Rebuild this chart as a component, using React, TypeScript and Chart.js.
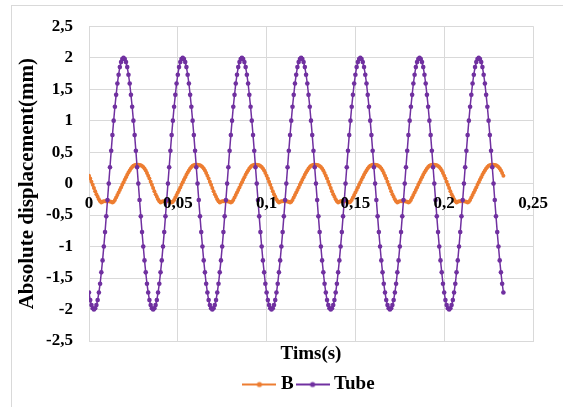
import React, { useEffect, useRef } from "react";
import { Chart, registerables } from "chart.js";

Chart.register(...registerables);

// ---- data ----
const TIME_STEP = 1 / 1440; // seconds between successive samples
const SERIES_NAMES = ["B", "Tube"];
const X_RANGE = [0, 0.25];
const X_STEP = 0.05;
const Y_RANGE = [-2.5, 2.5];
const Y_STEP = 0.5;

const B_VALUES = [
  0.125, 0.08, 0.03, -0.02, -0.07, -0.12, -0.17, -0.21, -0.25, -0.28, -0.3, -0.29,
  -0.28, -0.28, -0.28, -0.28, -0.28, -0.285, -0.29, -0.3, -0.29, -0.26, -0.22, -0.18,
  -0.14, -0.1, -0.06, -0.02, 0.02, 0.06, 0.1, 0.14, 0.175, 0.21, 0.24, 0.265,
  0.283, 0.292, 0.298, 0.3, 0.3, 0.297, 0.29, 0.28, 0.263, 0.24, 0.21, 0.17,
  0.125, 0.08, 0.03, -0.02, -0.07, -0.12, -0.17, -0.21, -0.25, -0.28, -0.3, -0.29,
  -0.28, -0.28, -0.28, -0.28, -0.28, -0.285, -0.29, -0.3, -0.29, -0.26, -0.22, -0.18,
  -0.14, -0.1, -0.06, -0.02, 0.02, 0.06, 0.1, 0.14, 0.175, 0.21, 0.24, 0.265,
  0.283, 0.292, 0.298, 0.3, 0.3, 0.297, 0.29, 0.28, 0.263, 0.24, 0.21, 0.17,
  0.125, 0.08, 0.03, -0.02, -0.07, -0.12, -0.17, -0.21, -0.25, -0.28, -0.3, -0.29,
  -0.28, -0.28, -0.28, -0.28, -0.28, -0.285, -0.29, -0.3, -0.29, -0.26, -0.22, -0.18,
  -0.14, -0.1, -0.06, -0.02, 0.02, 0.06, 0.1, 0.14, 0.175, 0.21, 0.24, 0.265,
  0.283, 0.292, 0.298, 0.3, 0.3, 0.297, 0.29, 0.28, 0.263, 0.24, 0.21, 0.17,
  0.125, 0.08, 0.03, -0.02, -0.07, -0.12, -0.17, -0.21, -0.25, -0.28, -0.3, -0.29,
  -0.28, -0.28, -0.28, -0.28, -0.28, -0.285, -0.29, -0.3, -0.29, -0.26, -0.22, -0.18,
  -0.14, -0.1, -0.06, -0.02, 0.02, 0.06, 0.1, 0.14, 0.175, 0.21, 0.24, 0.265,
  0.283, 0.292, 0.298, 0.3, 0.3, 0.297, 0.29, 0.28, 0.263, 0.24, 0.21, 0.17,
  0.125, 0.08, 0.03, -0.02, -0.07, -0.12, -0.17, -0.21, -0.25, -0.28, -0.3, -0.29,
  -0.28, -0.28, -0.28, -0.28, -0.28, -0.285, -0.29, -0.3, -0.29, -0.26, -0.22, -0.18,
  -0.14, -0.1, -0.06, -0.02, 0.02, 0.06, 0.1, 0.14, 0.175, 0.21, 0.24, 0.265,
  0.283, 0.292, 0.298, 0.3, 0.3, 0.297, 0.29, 0.28, 0.263, 0.24, 0.21, 0.17,
  0.125, 0.08, 0.03, -0.02, -0.07, -0.12, -0.17, -0.21, -0.25, -0.28, -0.3, -0.29,
  -0.28, -0.28, -0.28, -0.28, -0.28, -0.285, -0.29, -0.3, -0.29, -0.26, -0.22, -0.18,
  -0.14, -0.1, -0.06, -0.02, 0.02, 0.06, 0.1, 0.14, 0.175, 0.21, 0.24, 0.265,
  0.283, 0.292, 0.298, 0.3, 0.3, 0.297, 0.29, 0.28, 0.263, 0.24, 0.21, 0.17,
  0.125, 0.08, 0.03, -0.02, -0.07, -0.12, -0.17, -0.21, -0.25, -0.28, -0.3, -0.29,
  -0.28, -0.28, -0.28, -0.28, -0.28, -0.285, -0.29, -0.3, -0.29, -0.26, -0.22, -0.18,
  -0.14, -0.1, -0.06, -0.02, 0.02, 0.06, 0.1, 0.14, 0.175, 0.21, 0.24, 0.265,
  0.283, 0.292, 0.298, 0.3, 0.3, 0.297, 0.29, 0.28, 0.263, 0.24, 0.21, 0.17,
  0.125,
];

const TUBE_VALUES = [
  -1.73, -1.85, -1.93, -1.98, -2, -1.98, -1.93, -1.85, -1.73, -1.59, -1.41, -1.22,
  -1, -0.77, -0.52, -0.26, 0, 0.26, 0.52, 0.77, 1, 1.22, 1.41, 1.59,
  1.73, 1.85, 1.93, 1.98, 2, 1.98, 1.93, 1.85, 1.73, 1.59, 1.41, 1.22,
  1, 0.77, 0.52, 0.26, 0, -0.26, -0.52, -0.77, -1, -1.22, -1.41, -1.59,
  -1.73, -1.85, -1.93, -1.98, -2, -1.98, -1.93, -1.85, -1.73, -1.59, -1.41, -1.22,
  -1, -0.77, -0.52, -0.26, 0, 0.26, 0.52, 0.77, 1, 1.22, 1.41, 1.59,
  1.73, 1.85, 1.93, 1.98, 2, 1.98, 1.93, 1.85, 1.73, 1.59, 1.41, 1.22,
  1, 0.77, 0.52, 0.26, 0, -0.26, -0.52, -0.77, -1, -1.22, -1.41, -1.59,
  -1.73, -1.85, -1.93, -1.98, -2, -1.98, -1.93, -1.85, -1.73, -1.59, -1.41, -1.22,
  -1, -0.77, -0.52, -0.26, 0, 0.26, 0.52, 0.77, 1, 1.22, 1.41, 1.59,
  1.73, 1.85, 1.93, 1.98, 2, 1.98, 1.93, 1.85, 1.73, 1.59, 1.41, 1.22,
  1, 0.77, 0.52, 0.26, 0, -0.26, -0.52, -0.77, -1, -1.22, -1.41, -1.59,
  -1.73, -1.85, -1.93, -1.98, -2, -1.98, -1.93, -1.85, -1.73, -1.59, -1.41, -1.22,
  -1, -0.77, -0.52, -0.26, 0, 0.26, 0.52, 0.77, 1, 1.22, 1.41, 1.59,
  1.73, 1.85, 1.93, 1.98, 2, 1.98, 1.93, 1.85, 1.73, 1.59, 1.41, 1.22,
  1, 0.77, 0.52, 0.26, 0, -0.26, -0.52, -0.77, -1, -1.22, -1.41, -1.59,
  -1.73, -1.85, -1.93, -1.98, -2, -1.98, -1.93, -1.85, -1.73, -1.59, -1.41, -1.22,
  -1, -0.77, -0.52, -0.26, 0, 0.26, 0.52, 0.77, 1, 1.22, 1.41, 1.59,
  1.73, 1.85, 1.93, 1.98, 2, 1.98, 1.93, 1.85, 1.73, 1.59, 1.41, 1.22,
  1, 0.77, 0.52, 0.26, 0, -0.26, -0.52, -0.77, -1, -1.22, -1.41, -1.59,
  -1.73, -1.85, -1.93, -1.98, -2, -1.98, -1.93, -1.85, -1.73, -1.59, -1.41, -1.22,
  -1, -0.77, -0.52, -0.26, 0, 0.26, 0.52, 0.77, 1, 1.22, 1.41, 1.59,
  1.73, 1.85, 1.93, 1.98, 2, 1.98, 1.93, 1.85, 1.73, 1.59, 1.41, 1.22,
  1, 0.77, 0.52, 0.26, 0, -0.26, -0.52, -0.77, -1, -1.22, -1.41, -1.59,
  -1.73, -1.85, -1.93, -1.98, -2, -1.98, -1.93, -1.85, -1.73, -1.59, -1.41, -1.22,
  -1, -0.77, -0.52, -0.26, 0, 0.26, 0.52, 0.77, 1, 1.22, 1.41, 1.59,
  1.73, 1.85, 1.93, 1.98, 2, 1.98, 1.93, 1.85, 1.73, 1.59, 1.41, 1.22,
  1, 0.77, 0.52, 0.26, 0, -0.26, -0.52, -0.77, -1, -1.22, -1.41, -1.59,
  -1.73,
];

const X_TITLE = "Tims(s)";
const Y_TITLE = "Absolute displacement(mm)";

// ---- styling ----
const FONT = "'Liberation Serif', 'Times New Roman', serif";
const ORANGE = "#ED7D31";
const PURPLE = "#7030A0";
const GRID = "#d9d9d9";

const fmt = (v: number) => String(Math.round(v * 100) / 100).replace(".", ",");

function swatch(color: string): HTMLCanvasElement {
  const c = document.createElement("canvas");
  c.width = 34;
  c.height = 8;
  const g = c.getContext("2d")!;
  g.strokeStyle = color;
  g.lineWidth = 2;
  g.beginPath();
  g.moveTo(0, 4);
  g.lineTo(34, 4);
  g.stroke();
  g.fillStyle = color;
  g.beginPath();
  g.arc(17, 4, 2.6, 0, Math.PI * 2);
  g.fill();
  return c;
}

const zeroAxisLabels = {
  id: "zeroAxisLabels",
  afterDraw(chart: any) {
    const { ctx } = chart;
    const x = chart.scales.x;
    const y = chart.scales.y;
    const yPix = y.getPixelForValue(0);
    ctx.save();
    ctx.font = `bold 17px ${FONT}`;
    ctx.fillStyle = "#000";
    ctx.textAlign = "center";
    ctx.textBaseline = "middle";
    x.ticks.forEach((t: any) => {
      ctx.fillText(fmt(t.value), x.getPixelForValue(t.value), yPix + 20);
    });
    ctx.restore();
  },
};

export default function App() {
  const ref = useRef<HTMLCanvasElement>(null);

  useEffect(() => {
    const canvas = ref.current;
    if (!canvas) return;
    const times = TUBE_VALUES.map((_, i) => i * TIME_STEP);
    const colors = [ORANGE, PURPLE];
    const swatches = colors.map(swatch);

    const chart = new Chart(canvas, {
      type: "line",
      data: {
        datasets: [
          {
            label: SERIES_NAMES[0],
            data: B_VALUES.map((v, i) => ({ x: times[i], y: v })),
            borderColor: ORANGE,
            backgroundColor: ORANGE,
            borderWidth: 2,
            pointRadius: 2,
            pointBorderWidth: 0,
            pointBackgroundColor: ORANGE,
            order: 2,
          },
          {
            label: SERIES_NAMES[1],
            data: TUBE_VALUES.map((v, i) => ({ x: times[i], y: v })),
            borderColor: PURPLE,
            backgroundColor: PURPLE,
            borderWidth: 1.5,
            pointRadius: 2.3,
            pointBorderWidth: 0,
            pointBackgroundColor: PURPLE,
            order: 1,
          },
        ],
      },
      options: {
        animation: false,
        responsive: true,
        maintainAspectRatio: false,
        events: [],
        layout: { padding: { left: 12, top: 23, right: 30, bottom: 3 } },
        scales: {
          x: {
            type: "linear",
            min: X_RANGE[0],
            max: X_RANGE[1],
            ticks: { stepSize: X_STEP, display: false },
            grid: { color: GRID, drawTicks: false, lineWidth: 1 },
            border: { color: GRID },
            title: {
              display: true,
              text: X_TITLE,
              color: "#000",
              font: { family: FONT, size: 19, weight: "bold" },
              padding: { top: 0, bottom: 3 },
            },
            afterFit: (s: any) => {
              s.height = 27;
            },
          },
          y: {
            type: "linear",
            min: Y_RANGE[0],
            max: Y_RANGE[1],
            ticks: {
              stepSize: Y_STEP,
              color: "#000",
              padding: 16,
              font: { family: FONT, size: 17, weight: "bold" },
              callback: (v: any) => fmt(Number(v)),
            },
            grid: { color: GRID, drawTicks: false, lineWidth: 1 },
            border: { color: GRID },
            title: {
              display: true,
              text: Y_TITLE,
              color: "#000",
              font: { family: FONT, size: 21, weight: "bold" },
              padding: { top: 3, bottom: 0 },
            },
            afterFit: (s: any) => {
              s.width = 77;
            },
          },
        },
        plugins: {
          tooltip: { enabled: false },
          legend: {
            display: true,
            position: "bottom",
            fullSize: false,
            labels: {
              usePointStyle: true,
              pointStyleWidth: 24,
              padding: 7,
              color: "#000",
              font: { family: FONT, size: 19, weight: "bold" },
              generateLabels: (c: any) =>
                c.data.datasets.map((ds: any, i: number) => ({
                  text: ds.label,
                  datasetIndex: i,
                  pointStyle: swatches[i],
                  fillStyle: colors[i],
                  strokeStyle: colors[i],
                  lineWidth: 0,
                  hidden: false,
                })),
            },
          },
        },
      },
      plugins: [zeroAxisLabels],
    } as any);

    return () => chart.destroy();
  }, []);

  return (
    <div
      style={{
        position: "fixed",
        left: 0,
        top: 0,
        width: 563,
        height: 407,
        background: "#fff",
        overflow: "hidden",
      }}
    >
      <div
        style={{
          position: "absolute",
          left: 11,
          top: 5,
          width: 600,
          height: 450,
          borderLeft: `1px solid ${GRID}`,
          borderTop: `1px solid ${GRID}`,
        }}
      />
      <div style={{ position: "absolute", left: 0, top: 0, width: 563, height: 407 }}>
        <canvas ref={ref} />
      </div>
    </div>
  );
}
